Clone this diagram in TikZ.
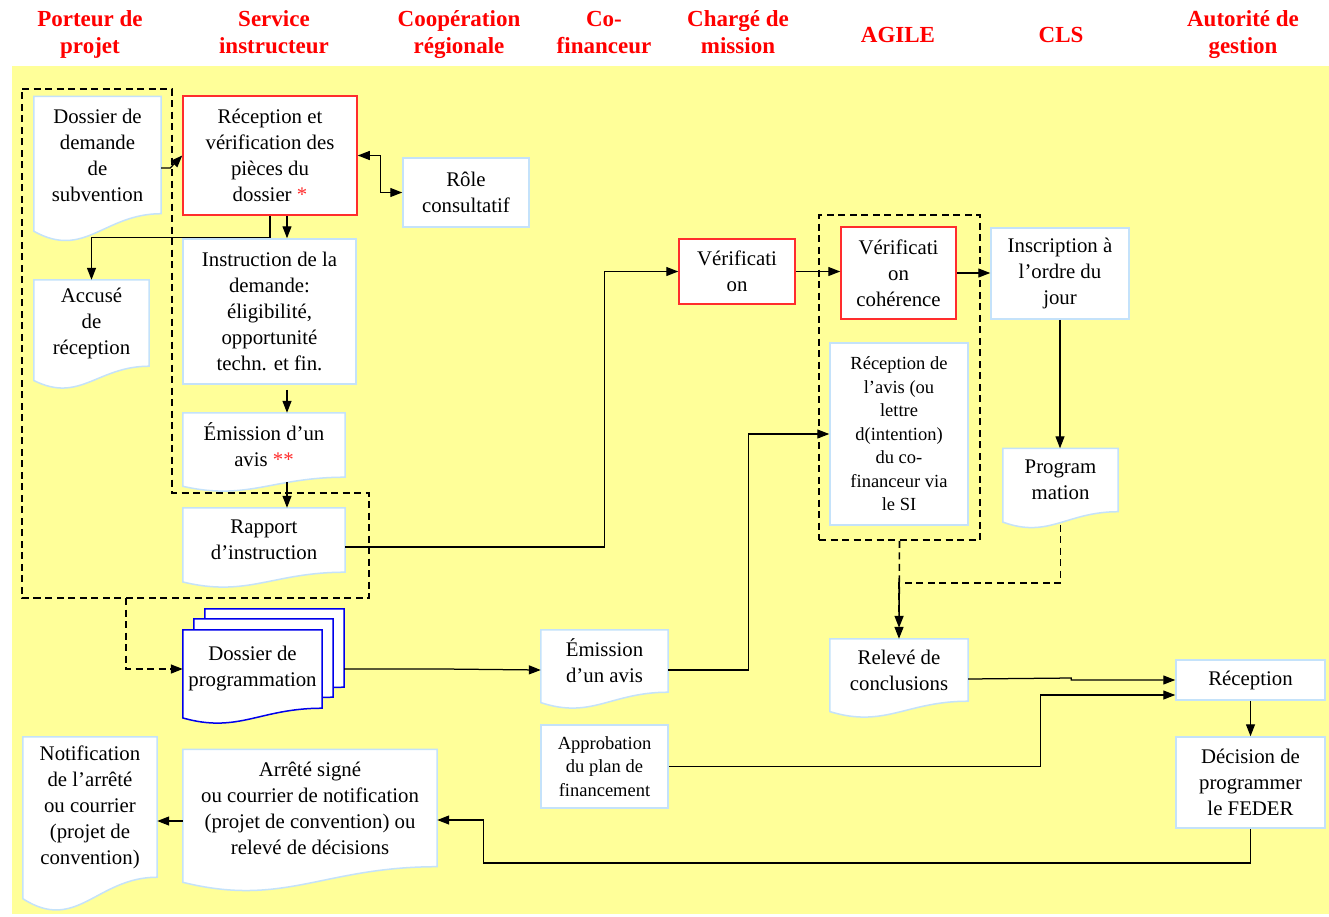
\documentclass[tikz,border=0pt]{standalone}
\usepackage{fontspec}
\setmainfont{Liberation Serif}
\usetikzlibrary{arrows.meta,calc}
\pgfdeclarelayer{back}
\pgfdeclarelayer{sheets}
\pgfsetlayers{back,sheets,main}
\definecolor{lane}{RGB}{255,255,153}
\definecolor{edgeblue}{RGB}{196,226,250}
\definecolor{boxred}{RGB}{255,45,45}
\definecolor{stackblue}{RGB}{0,0,235}

\tikzset{
  hdr/.style={text=red, font=\fontsize{23}{27}\selectfont\bfseries, align=center, inner sep=0pt},
  body/.style={font=\fontsize{20.8}{26}\selectfont, align=center, inner sep=0pt},
  smalltext/.style={font=\fontsize{18.5}{23.5}\selectfont},
  plainbox/.style={body, draw=edgeblue, fill=white, line width=1.5pt},
  redbox/.style={body, draw=boxred, fill=white, line width=1.5pt},
  docbox/.style={body},
  sheet/.style={fill=white, draw=edgeblue, line width=1.5pt},
  bluesheet/.style={fill=white, draw=stackblue, line width=1.5pt},
  arr/.style={draw=black, line width=1.25pt, -{Triangle[length=12pt,width=9pt]}},
  biarr/.style={draw=black, line width=1.25pt, {Triangle[length=12pt,width=9pt]}-{Triangle[length=12pt,width=9pt]}},
  darr/.style={arr, dash pattern=on 7pt off 4.5pt, line width=1.6pt},
  grp/.style={draw=black, line width=1.8pt, dash pattern=on 7pt off 4.5pt},
}

% uniform line heights for the two-line lane headers
\newcommand\hl{\vphantom{Ég}}

% document outline with a wavy lower edge, drawn under the node text
\newcommand\docoutline[3]{%
  \begin{pgfonlayer}{sheets}
  \path[#1] (#2.north west) -- (#2.north east) -- (#2.south east)
    .. controls ($(#2.south east)!0.45!(#2.south west)$) and ($(#2.south west)!0.4!(#2.south east)+(0,1.7*#3)$) ..
    ($(#2.south west)+(0,0.65*#3)$) -- cycle;
  \end{pgfonlayer}}

\begin{document}
\begin{tikzpicture}[x=1pt,y=-1pt]
\useasboundingbox (0,0) rectangle (1329,916);
\begin{pgfonlayer}{back}
  \fill[white] (0,0) rectangle (1329,916);
  \fill[lane] (12,66) rectangle (1329,914);
\end{pgfonlayer}

% lane headers
\node[hdr] (h1) at (90,33) {\hl Porteur de\\\hl projet};
\node[hdr] (h2) at (274,33) {\hl Service\\\hl instructeur};
\node[hdr] (h3) at (459,33) {\hl Coopération\\\hl régionale};
\node[hdr] (h4) at (604,33) {\hl Co-\\\hl financeur};
\node[hdr] (h5) at (738,33) {\hl Chargé de\\\hl mission};
\node[hdr] (h6) at (898,35) {AGILE};
\node[hdr] (h7) at (1061,35) {CLS};
\node[hdr] (h8) at (1243,33) {\hl Autorité de\\\hl gestion};

% steps
\node[docbox, minimum width=127pt, minimum height=117pt] (dem) at (97.5,155) {Dossier de\\demande\\de\\subvention};
\docoutline{sheet}{dem}{27}
\node[redbox, minimum width=174pt, minimum height=119pt] (recep) at (270,155.5) {Réception et\\vérification des\\pièces du\\dossier {\color{boxred}*}};
\node[plainbox, minimum width=126pt, minimum height=69pt] (role) at (466,192.5) {Rôle\\consultatif};
\node[docbox, minimum width=115pt, minimum height=86pt] (accuse) at (91.5,323) {Accusé\\de\\réception};
\docoutline{sheet}{accuse}{22}
\node[plainbox, minimum width=173pt, minimum height=145pt] (instr) at (269.5,311.5) {Instruction de la\\demande:\\éligibilité,\\opportunité\\techn. et fin.};
\node[docbox, minimum width=162pt, minimum height=64pt] (avis1) at (264,445) {Émission d’un\\avis {\color{boxred}**}};
\docoutline{sheet}{avis1}{14}
\node[docbox, minimum width=162pt, minimum height=64pt] (rapport) at (264,540) {Rapport\\d’instruction};
\docoutline{sheet}{rapport}{15}
\node[redbox, minimum width=116pt, minimum height=65pt] (verif) at (737,271.5) {Vérificati\\on};
\node[redbox, minimum width=115pt, minimum height=92pt] (coher) at (898.5,273) {Vérificati\\on\\cohérence};
\node[plainbox, smalltext, minimum width=138pt, minimum height=182pt] (recavis) at (899,434) {Réception de\\l’avis (ou\\lettre\\d(intention)\\du co-\\financeur via\\le SI};
\node[grp, minimum width=161pt, minimum height=325pt, inner sep=0pt] (agile) at (899.5,377.5) {};
\node[plainbox, minimum width=138pt, minimum height=91pt] (inscr) at (1060,273.5) {Inscription à\\l’ordre du\\jour};
\node[docbox, minimum width=115pt, minimum height=63pt] (progm) at (1060.5,480) {Program\\mation};
\docoutline{sheet}{progm}{16}
\node[docbox, minimum width=138pt, minimum height=62pt] (releve) at (899,670) {Relevé de\\conclusions};
\docoutline{sheet}{releve}{16}
\node[plainbox, minimum width=149pt, minimum height=40pt] (recfin) at (1250.5,680) {Réception};
\node[plainbox, minimum width=149pt, minimum height=91pt] (decis) at (1250.5,782.5) {Décision de\\programmer\\le FEDER};

% stacked programming file
\node[docbox, minimum width=139pt, minimum height=78pt] (progc) at (274.5,648) {};
\node[docbox, minimum width=139pt, minimum height=78pt] (progb) at (263.5,658) {};
\node[docbox, minimum width=139pt, minimum height=78pt] (dossprog) at (252.5,669) {Dossier de\\programmation};
\docoutline{bluesheet}{progc}{15}
\docoutline{bluesheet}{progb}{15}
\docoutline{bluesheet}{dossprog}{15}

\node[docbox, minimum width=127pt, minimum height=62pt] (avis2) at (604.5,661) {Émission\\d’un avis};
\docoutline{sheet}{avis2}{16}
\node[plainbox, smalltext, minimum width=127pt, minimum height=83pt] (approb) at (604.5,766.5) {Approbation\\du plan de\\financement};
\node[docbox, minimum width=254pt, minimum height=117pt] (arrete) at (310,808) {Arrêté signé\\ou courrier de notification\\(projet de convention) ou\\relevé de décisions};
\docoutline{sheet}{arrete}{24}
\node[docbox, minimum width=134pt, minimum height=140pt] (notif) at (90,807) {Notification\\de l’arrêté\\ou courrier\\(projet de\\convention)};
\docoutline{sheet}{notif}{33}

% instruction group outline
\draw[grp] (22,89) -- (172,89) -- (172,493) -- (369,493) -- (369,598) -- (22,598) -- cycle;
\coordinate (grpfoot) at (126,598);

% flows
\draw[arr] ([yshift=-13pt]dem.east) -- ++(9,0) -- (recep.west);
\draw[arr] (recep.south) -- ++(0,22) -| (accuse.north);
\draw[arr] ([xshift=17pt]recep.south) -- ([xshift=17.5pt]instr.north);
\draw[biarr] (recep.east) -- ++(23,0) |- (role.west);
\draw[arr] ([shift={(17.5,5)}]instr.south) -- ([xshift=23pt]avis1.north);
\draw[arr] ([shift={(23,5)}]avis1.south) -- ([xshift=23pt]rapport.north);
\draw[arr] ([yshift=-7pt]rapport.east) -| ($(verif.west)+(-74,0)$) -- (verif.west);
\draw[arr] (verif.east) -- (verif.east -| coher.west);
\draw[arr] (coher.east) -- (coher.east -| inscr.west);
\draw[arr] (inscr.south) -- (inscr.south |- progm.north);
\draw[darr] (grpfoot) |- (dossprog.west);
\coordinate (stackout) at (dossprog.east -| progc.east);
\draw[arr] (stackout) -- ($(stackout)+(99,0)$) -- ($(stackout -| avis2.west)+(0,1)$);
\coordinate (avisout) at ($(stackout -| avis2.east)+(0,1)$);
\draw[arr] (avisout) -| ($(recavis.west)+(-81,0)$) -- (recavis.west);
\draw[darr] (agile.south) -- ([yshift=11pt]releve.north);
\draw[darr] ([yshift=-13pt]progm.south) |- ($(releve.north)+(0,-56)$) -- (releve.north);
\draw[arr] ([yshift=-9pt]releve.east) -- ($(recfin.west)+(-104,-2)$) |- (recfin.west);
\draw[arr] (approb.east) -| ($(recfin.west)+(-135,15)$) -- ([yshift=-15pt]recfin.west);
\draw[arr] (recfin.south) -- (decis.north);
\draw[arr] (decis.south) |- ($(arrete.east)+(46,55)$) |- ([yshift=-12pt]arrete.east);
\coordinate (arrout) at ([yshift=-13pt]arrete.west);
\draw[arr] (arrout) -- (arrout -| notif.east);
\end{tikzpicture}
\end{document}
